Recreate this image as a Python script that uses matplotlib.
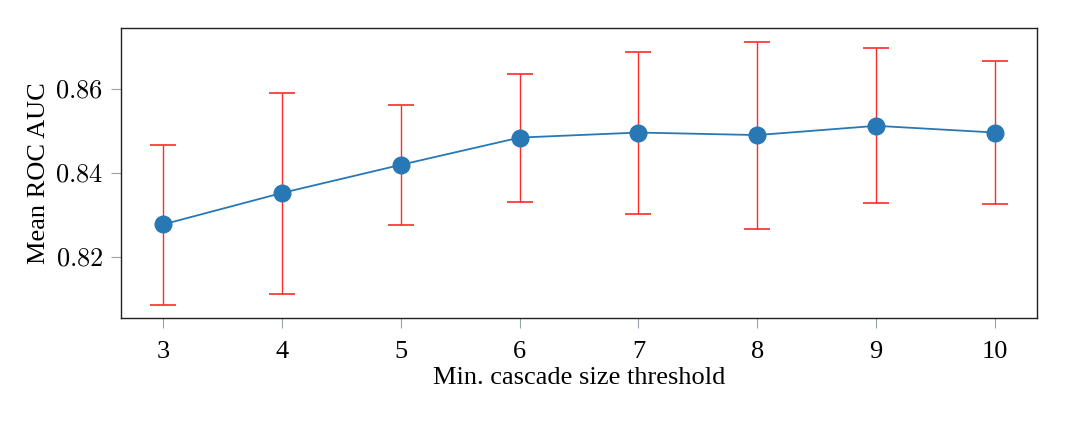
import matplotlib
matplotlib.use("Agg")
import matplotlib.pyplot as plt
from matplotlib.ticker import FuncFormatter

thresholds = [3, 4, 5, 6, 7, 8, 9, 10]
mean_auc = [0.8278, 0.8353, 0.8420, 0.8485, 0.8497, 0.8491, 0.8513, 0.8497]
upper = [0.8468, 0.8592, 0.8562, 0.8637, 0.8689, 0.8713, 0.8698, 0.8667]
lower = [0.8086, 0.8113, 0.8277, 0.8332, 0.8304, 0.8267, 0.8328, 0.8327]
yticks = [0.82, 0.84, 0.86]

plt.rcParams["mathtext.fontset"] = "cm"
plt.rcParams["font.family"] = ["Liberation Serif", "DejaVu Serif"]

fig = plt.figure(figsize=(10.88, 4.46), dpi=100)
ax = fig.add_axes([0.1115, 0.2877, 0.8413, 0.6495])

err_lo = [m - l for m, l in zip(mean_auc, lower)]
err_hi = [u - m for m, u in zip(mean_auc, upper)]
ax.errorbar(thresholds, mean_auc, yerr=[err_lo, err_hi], fmt="none",
            ecolor="#ff2a2a", elinewidth=1.0, capsize=9.5, capthick=1.2, zorder=1)
ax.plot(thresholds, mean_auc, "-o", color="#2878b5", lw=1.3, ms=12, zorder=2)

ax.set_xlim(2.65, 10.35)
ax.set_ylim(0.8056, 0.8746)
ax.set_xticks(thresholds)
ax.set_yticks(yticks)
ax.yaxis.set_major_formatter(FuncFormatter(lambda v, p: "$%.2f$" % v))

ax.tick_params(axis="both", length=7, width=0.8, color="#9aa3ab", labelsize=19)
ax.tick_params(axis="x", pad=10)
ax.tick_params(axis="y", pad=6)
for s in ax.spines.values():
    s.set_linewidth(1.0)
    s.set_color("#222222")

ax.set_xlabel("Min. cascade size threshold", fontsize=19, labelpad=3)
ax.set_ylabel("Mean ROC AUC", fontsize=19, labelpad=4)

fig.savefig("out.png", dpi=100)
